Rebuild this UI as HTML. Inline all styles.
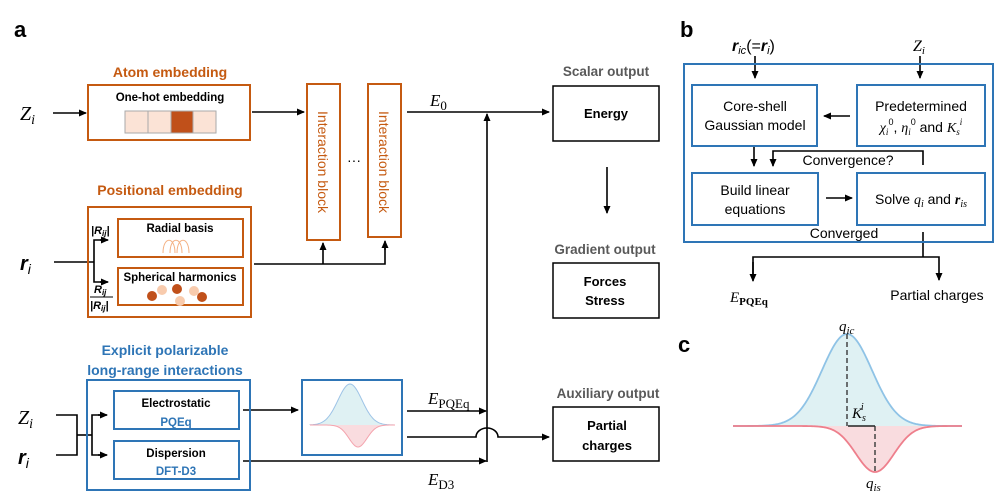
<!DOCTYPE html>
<html><head><meta charset="utf-8"><style>
body{margin:0;background:#fff}
svg{display:block}
text{font-family:"Liberation Sans",sans-serif}
.m{font-family:"Liberation Serif",serif;font-style:italic}
.b{font-weight:bold}
</style></head><body>
<svg width="997" height="492" viewBox="0 0 997 492" xmlns="http://www.w3.org/2000/svg">
<defs>
<marker id="ar" markerWidth="8" markerHeight="8" refX="7" refY="4" orient="auto" markerUnits="userSpaceOnUse"><path d="M0,0.5 L8,4 L0,7.5z" fill="#000"/></marker>
</defs>
<g stroke="#000" stroke-width="1.6" fill="none">
<line x1="53" y1="113" x2="86" y2="113" marker-end="url(#ar)"/>
<line x1="252" y1="112" x2="304" y2="112" marker-end="url(#ar)"/>
<line x1="54" y1="262" x2="94" y2="262"/>
<polyline points="107,240 94,240 94,282 107,282"/>
<line x1="100" y1="240" x2="108" y2="240" marker-end="url(#ar)"/>
<line x1="100" y1="282" x2="108" y2="282" marker-end="url(#ar)"/>
<polyline points="254,264 385,264 385,243"/>
<line x1="385" y1="250" x2="385" y2="241" marker-end="url(#ar)"/>
<line x1="323" y1="264" x2="323" y2="243" marker-end="url(#ar)"/>
<line x1="407" y1="112" x2="549" y2="112" marker-end="url(#ar)"/>
<line x1="487" y1="462" x2="487" y2="114" marker-end="url(#ar)"/>
<line x1="607" y1="167" x2="607" y2="213" marker-end="url(#ar)"/>
<polyline points="56,415 77,415 77,455 56,455"/>
<line x1="77" y1="435" x2="92" y2="435"/>
<polyline points="105,415 92,415 92,455 105,455"/>
<line x1="98" y1="415" x2="107" y2="415" marker-end="url(#ar)"/>
<line x1="98" y1="455" x2="107" y2="455" marker-end="url(#ar)"/>
<line x1="243" y1="410" x2="298" y2="410" marker-end="url(#ar)"/>
<line x1="407" y1="411" x2="486" y2="411" marker-end="url(#ar)"/>
<path d="M407,437 L476,437 A11,9 0 0 1 498,437 L549,437" marker-end="url(#ar)"/>
<line x1="243" y1="461" x2="486" y2="461" marker-end="url(#ar)"/>
<line x1="755" y1="56" x2="755" y2="78" marker-end="url(#ar)"/>
<line x1="920" y1="56" x2="920" y2="78" marker-end="url(#ar)"/>
<line x1="850" y1="116" x2="824" y2="116" marker-end="url(#ar)"/>
<line x1="754" y1="147" x2="754" y2="166" marker-end="url(#ar)"/>
<polyline points="923,165 923,151 773,151 773,166" marker-end="url(#ar)"/>
<line x1="826" y1="198" x2="852" y2="198" marker-end="url(#ar)"/>
<polyline points="923,232 923,257"/>
<polyline points="753,280 753,257 939,257 939,280" marker-end="url(#ar)"/>
<line x1="753" y1="262" x2="753" y2="281" marker-end="url(#ar)"/>
</g>
<g fill="none" stroke="#c55a11" stroke-width="2">
<rect x="88" y="85" width="162" height="55"/>
<rect x="307" y="84" width="33" height="156"/>
<rect x="368" y="84" width="33" height="153"/>
<rect x="88" y="207" width="163" height="110"/>
<rect x="118" y="219" width="125" height="38"/>
<rect x="118" y="268" width="125" height="37"/>
</g>
<g stroke="#aaa" stroke-width="1">
<rect x="125" y="111" width="23" height="22" fill="#fbe3d6"/>
<rect x="148" y="111" width="23" height="22" fill="#fbe3d6"/>
<rect x="171" y="111" width="22" height="22" fill="#c0501a"/>
<rect x="193" y="111" width="23" height="22" fill="#fbe3d6"/>
</g>
<g fill="none" stroke="#f4b183" stroke-width="1">
<path d="M163,253 C163,236 175,236 175,253 M170,253 C170,236 182,236 182,253 M177,253 C177,236 189,236 189,253"/>
</g>
<g fill="#c0501a"><circle cx="152" cy="296" r="5"/><circle cx="177" cy="289" r="5"/><circle cx="202" cy="297" r="5"/></g>
<g fill="#f8cbad"><circle cx="162" cy="290" r="5"/><circle cx="180" cy="301" r="5"/><circle cx="194" cy="291" r="5"/></g>
<g fill="none" stroke="#000" stroke-width="1.5">
<rect x="553" y="86" width="106" height="55"/>
<rect x="553" y="263" width="106" height="55"/>
<rect x="553" y="407" width="106" height="54"/>
</g>
<g fill="none" stroke="#2e75b6" stroke-width="2">
<rect x="87" y="380" width="163" height="110"/>
<rect x="114" y="391" width="125" height="38"/>
<rect x="114" y="441" width="125" height="38"/>
<rect x="302" y="380" width="100" height="75"/>
<rect x="684" y="64" width="309" height="178"/>
<rect x="692" y="85" width="125" height="61"/>
<rect x="857" y="85" width="128" height="61"/>
<rect x="692" y="173" width="126" height="52"/>
<rect x="857" y="173" width="128" height="52"/>
</g>
<path id="g1" fill="#dff1f3" stroke="#9dc3e6" stroke-width="1"/>
<path id="g2" fill="#f9dcdf" stroke="#f4a3ad" stroke-width="1"/>
<path id="g3" fill="#dff1f3" stroke="#8fc3e6" stroke-width="1.8"/>
<path id="g4" fill="#f9dcdf" stroke="#ee7f8c" stroke-width="1.8"/>
<g stroke="#444" stroke-width="1.5" stroke-dasharray="5,3">
<line x1="847" y1="334" x2="847" y2="426"/>
<line x1="875" y1="426" x2="875" y2="472"/>
</g>
<line x1="848" y1="426" x2="875" y2="426" stroke="#222" stroke-width="1.5"/>
<text x="14" y="37" font-size="22" class="b">a</text>
<text x="680" y="37" font-size="22" class="b">b</text>
<text x="678" y="352" font-size="22" class="b">c</text>
<g fill="#c55a11" class="b" font-size="14" text-anchor="middle">
<text x="170" y="77">Atom embedding</text>
<text x="170" y="195">Positional embedding</text>
<text transform="translate(318,162) rotate(90)" font-weight="normal" font-size="14">Interaction block</text>
<text transform="translate(379,162) rotate(90)" font-weight="normal" font-size="14">Interaction block</text>
</g>
<text x="354" y="165" font-size="14" text-anchor="middle">···</text>
<g font-size="11.5" class="b" text-anchor="middle">
<text x="170" y="101">One-hot embedding</text>
<text x="180" y="232">Radial basis</text>
<text x="180" y="281">Spherical harmonics</text>
<text x="176" y="407">Electrostatic</text>
<text x="176" y="457">Dispersion</text>
<text x="176" y="426" fill="#2e75b6">PQEq</text>
<text x="176" y="475" fill="#2e75b6">DFT-D3</text>
</g>
<g fill="#2e75b6" class="b" font-size="14" text-anchor="middle">
<text x="165" y="355">Explicit polarizable</text>
<text x="165" y="375">long-range interactions</text>
</g>
<g fill="#595959" class="b" font-size="13.5" text-anchor="middle">
<text x="606" y="76">Scalar output</text>
<text x="605" y="254">Gradient output</text>
<text x="608" y="398">Auxiliary output</text>
</g>
<g class="b" font-size="13" text-anchor="middle">
<text x="606" y="118">Energy</text>
<text x="605" y="286">Forces</text>
<text x="605" y="305">Stress</text>
<text x="607" y="430">Partial</text>
<text x="607" y="450">charges</text>
</g>
<g font-family="Liberation Serif" font-size="20">
<text x="20" y="120" class="m">Z<tspan font-size="14" dy="4">i</tspan></text>
<text x="20" y="270" class="b" font-style="italic" font-family="Liberation Serif">r<tspan font-size="14" dy="4" font-weight="normal">i</tspan></text>
<text x="18" y="424" class="m">Z<tspan font-size="14" dy="4">i</tspan></text>
<text x="18" y="464" class="b" font-style="italic" font-family="Liberation Serif">r<tspan font-size="14" dy="4" font-weight="normal">i</tspan></text>
</g>
<g font-family="Liberation Serif" font-size="17">
<text x="430" y="106" class="m">E<tspan font-size="13" dy="4" font-style="normal">0</tspan></text>
<text x="428" y="404" class="m">E<tspan font-size="13" dy="4" font-style="normal">PQEq</tspan></text>
<text x="428" y="485" class="m">E<tspan font-size="13" dy="4" font-style="normal">D3</tspan></text>
<text x="730" y="302" class="m" font-size="15">E<tspan font-size="11" dy="3" font-style="normal" font-weight="bold">PQEq</tspan></text>
</g>
<g font-family="Liberation Serif" font-size="11">
<text x="91" y="234" font-style="italic" font-weight="bold">|R<tspan font-size="8" dy="2">ij</tspan><tspan dy="-2">|</tspan></text>
<text x="94" y="293" font-style="italic" font-weight="bold">R<tspan font-size="8" dy="2">ij</tspan></text>
<line x1="90" y1="297" x2="113" y2="297" stroke="#000"/>
<text x="90" y="309" font-style="italic" font-weight="bold">|R<tspan font-size="8" dy="2">ij</tspan><tspan dy="-2">|</tspan></text>
</g>
<g font-size="14" text-anchor="middle">
<text x="755" y="111">Core-shell</text>
<text x="755" y="130">Gaussian model</text>
<text x="921" y="111">Predetermined</text>
<text x="921" y="132"><tspan class="m" font-family="Liberation Serif">χ</tspan><tspan font-size="9" dy="3" class="m">i</tspan><tspan font-size="9" dy="-10">0</tspan><tspan dy="7">, </tspan><tspan class="m" font-family="Liberation Serif">η</tspan><tspan font-size="9" dy="3" class="m">i</tspan><tspan font-size="9" dy="-10">0</tspan><tspan dy="7"> and </tspan><tspan class="m" font-family="Liberation Serif">K</tspan><tspan font-size="9" dy="3" class="m">s</tspan><tspan font-size="9" dy="-10" class="m">i</tspan></text>
<text x="848" y="165">Convergence?</text>
<text x="755" y="195">Build linear</text>
<text x="755" y="214">equations</text>
<text x="921" y="204">Solve <tspan class="m" font-family="Liberation Serif">q</tspan><tspan font-size="10" dy="3" class="m">i</tspan><tspan dy="-3"> and </tspan><tspan class="m b" font-family="Liberation Serif">r</tspan><tspan font-size="10" dy="3" class="m">is</tspan></text>
<text x="844" y="238">Converged</text>
<text x="937" y="300">Partial charges</text>
</g>
<g font-family="Liberation Serif" font-size="16">
<text x="732" y="51" font-style="italic" font-weight="bold">r<tspan font-size="11" dy="3" font-weight="normal">ic</tspan><tspan dy="-3" font-style="normal" font-weight="normal">(=</tspan><tspan>r</tspan><tspan font-size="11" dy="3" font-weight="normal">i</tspan><tspan dy="-3" font-style="normal" font-weight="normal">)</tspan></text>
<text x="913" y="51" class="m">Z<tspan font-size="11" dy="3">i</tspan></text>
<text x="839" y="331" class="m" font-size="15">q<tspan font-size="11" dy="3">ic</tspan></text>
<text x="866" y="488" class="m" font-size="15">q<tspan font-size="11" dy="3">is</tspan></text>
<text x="852" y="418" class="m" font-size="15">K<tspan font-size="10" dy="3">s</tspan><tspan font-size="10" dx="-5" dy="-11">i</tspan></text>
</g>
<script>
function gp(x0,x1,base,cx,amp,s,id){var d="M"+x0+","+base;for(var x=x0;x<=x1;x+=1){var y=base-amp*Math.exp(-(x-cx)*(x-cx)/(2*s*s));d+=" L"+x+","+y.toFixed(2);}document.getElementById(id).setAttribute("d",d);}
gp(310,395,425,350,41,12,"g1");
gp(310,395,425,358,-22,9,"g2");
gp(733,962,426,847,92,25,"g3");
gp(733,962,426,875,-46,19,"g4");
</script>
</svg>
</body></html>
